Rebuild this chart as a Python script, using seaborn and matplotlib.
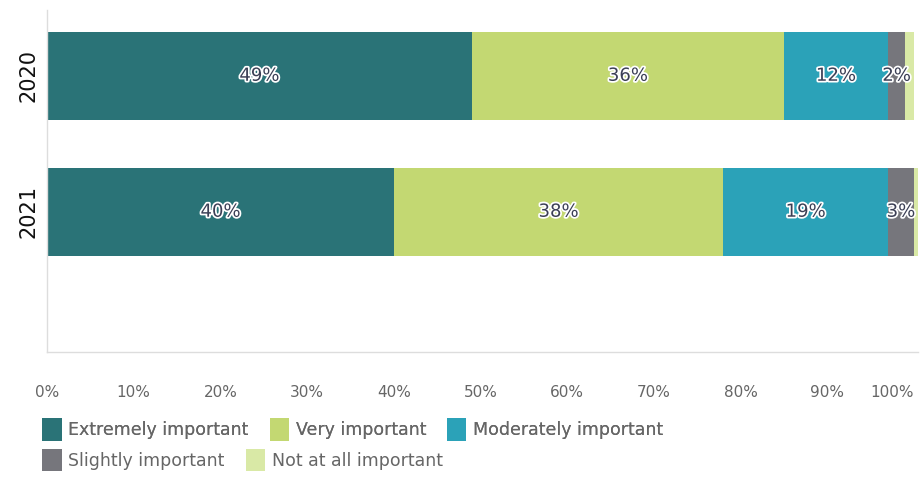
import numpy as np
import pandas as pd
import matplotlib
matplotlib.use('Agg')
import matplotlib.pyplot as plt
import matplotlib.patheffects as pe
from matplotlib.patches import Patch
import seaborn as sns

# ============================================================================
# DATA
# ============================================================================

years = ['2020', '2021']
categories = ['Extremely important', 'Very important', 'Moderately important',
              'Slightly important', 'Not at all important']
extremely = [49, 40]
very = [36, 38]
moderately = [12, 19]
slightly = [2, 3]
not_at_all = [1, 1]

colors = ['#2a7377', '#c3d872', '#2ba2b8', '#76767c', '#d9e9a6']
tick_vals = [0, 10, 20, 30, 40, 50, 60, 70, 80, 90, 100]
tick_labels = [f'{v}%' for v in tick_vals]

df = pd.DataFrame({'year': years,
                   categories[0]: extremely,
                   categories[1]: very,
                   categories[2]: moderately,
                   categories[3]: slightly,
                   categories[4]: not_at_all})

# ============================================================================
# PLOT
# ============================================================================

sns.set_style('white')
fig = plt.figure(figsize=(9.22, 4.92), dpi=100)
ax = fig.add_axes([0.051, 0.285, 0.945, 0.695])

left = np.zeros(len(years))
for cat, col in zip(categories, colors):
    vals = df[cat].to_numpy(dtype=float)
    sns.barplot(x=vals, y=df['year'], left=left, orient='h', color=col,
                width=0.65, ax=ax, saturation=1, edgecolor='none')
    for i, v in enumerate(vals):
        if v >= 2:
            t = ax.text(left[i] + v / 2, i, f'{int(v)}%', ha='center', va='center',
                        fontsize=13, color='#3b3f55')
            t.set_path_effects([pe.withStroke(linewidth=2.5, foreground='white')])
    left += vals

ax.set_xlim(0, 100.5)
ax.set_ylim(2.03, -0.485)
ax.set_xticks(tick_vals)
ax.set_xticklabels(tick_labels, fontsize=11, color='#666666')
ax.get_xticklabels()[-1].set_ha('right')
ax.get_xticklabels()[-1].set_x(100)
ax.tick_params(axis='x', length=0, pad=24)
ax.tick_params(axis='y', length=0, pad=6)
plt.setp(ax.get_yticklabels(), rotation=90, va='center', fontsize=15, color='#111111')
ax.set_xlabel('')
ax.set_ylabel('')
for s in ['top', 'right']:
    ax.spines[s].set_visible(False)
for s in ['left', 'bottom']:
    ax.spines[s].set_color('#dddddd')
    ax.spines[s].set_linewidth(1)

# legend in two flowing rows
handles = [Patch(facecolor=c, edgecolor='none') for c in colors]
leg_kw = dict(frameon=False, fontsize=12.5, labelcolor='#666666', handlelength=1.1,
              handleheight=1.6, handletextpad=0.4, columnspacing=1.2,
              borderaxespad=0, borderpad=0)
leg1 = fig.legend(handles[:3], categories[:3], ncol=3, loc='upper left',
                  bbox_to_anchor=(0.046, 0.15), **leg_kw)
fig.add_artist(leg1)
fig.legend(handles[3:], categories[3:], ncol=2, loc='upper left',
           bbox_to_anchor=(0.046, 0.088), **leg_kw)

plt.savefig('out.png', dpi=100)
plt.close()
